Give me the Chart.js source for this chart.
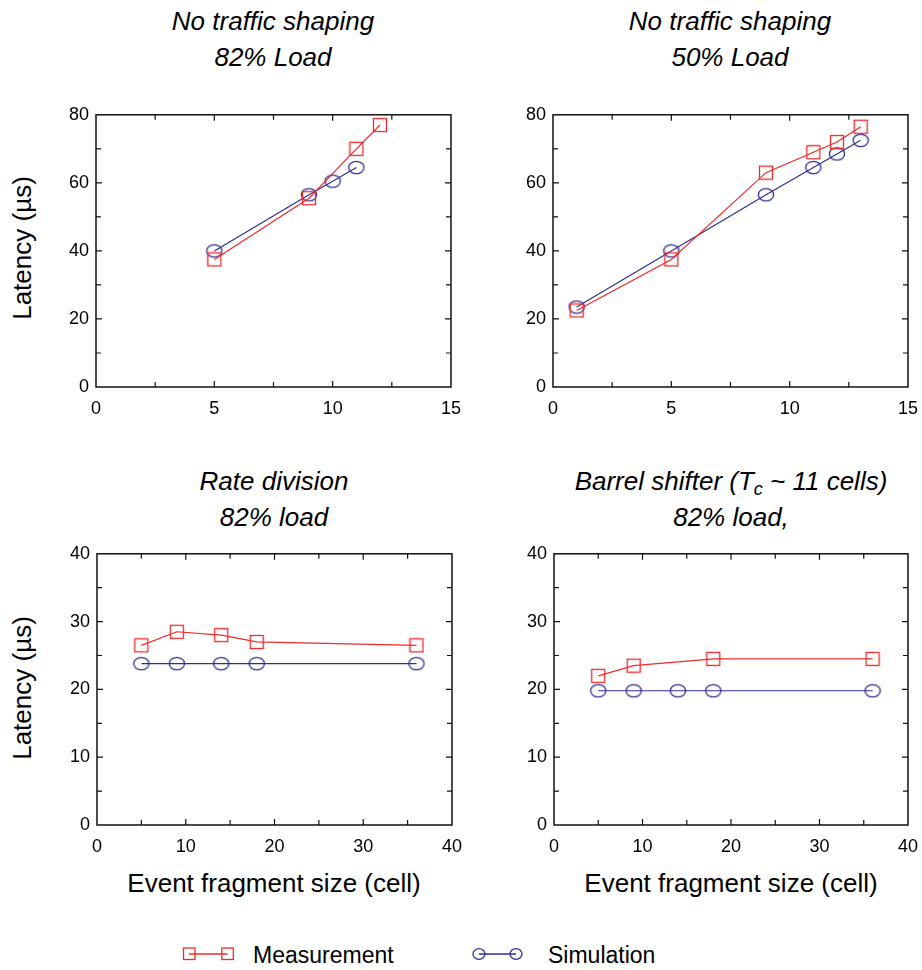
<!DOCTYPE html>
<html>
<head>
<title>Latency vs event fragment size</title>
<script src="https://cdn.jsdelivr.net/npm/chart.js@4.4.1/dist/chart.umd.min.js"></script>
<style>
body {
	margin: 0;
	width: 922px;
	height: 970px;
	position: relative;
	overflow: hidden;
	background: #fff;
	font-family: "Liberation Sans", Arial, sans-serif;
	color: #000;
}
canvas { position: absolute; }
.ptitle {
	position: absolute;
	width: 420px;
	text-align: center;
	font-style: italic;
	font-size: 26px;
	line-height: 36px;
}
.ptitle sub { font-size: 18px; vertical-align: -5px; line-height: 0; }
.ylab {
	position: absolute;
	font-size: 26px;
	white-space: nowrap;
	transform: translate(-50%, -50%) rotate(-90deg);
}
.xlab {
	position: absolute;
	font-size: 26px;
	white-space: nowrap;
	transform: translate(-50%, -50%);
}
.legtext {
	position: absolute;
	font-size: 23px;
	line-height: 24px;
	white-space: nowrap;
}
svg { position: absolute; }
</style>
</head>
<body>

<div class="ptitle" style="left:63px; top:3px;">No traffic shaping<br>82% Load</div>
<div class="ptitle" style="left:520px; top:3px;">No traffic shaping<br>50% Load</div>
<div class="ptitle" style="left:64px; top:463px;">Rate division<br>82% load</div>
<div class="ptitle" style="left:521px; top:463px;">Barrel shifter (T<sub>c</sub> ~ 11 cells)<br>82% load,</div>

<div class="ylab" style="left:22px; top:248px;">Latency (µs)</div>
<div class="ylab" style="left:22px; top:688px;">Latency (µs)</div>
<div class="xlab" style="left:274px; top:883px;">Event fragment size (cell)</div>
<div class="xlab" style="left:731px; top:883px;">Event fragment size (cell)</div>

<canvas id="c1"></canvas>
<canvas id="c2"></canvas>
<canvas id="c3"></canvas>
<canvas id="c4"></canvas>

<!-- legend -->
<svg style="left:180px; top:944px;" width="60" height="20">
  <line x1="9" y1="10" x2="47.5" y2="10" stroke="#f02a2a" stroke-width="1.3"/>
  <rect x="3.5" y="4" width="11.5" height="11.5" fill="none" stroke="#f02a2a" stroke-width="1.3"/>
  <rect x="41.8" y="4" width="11.5" height="11.5" fill="none" stroke="#f02a2a" stroke-width="1.3"/>
</svg>
<div class="legtext" style="left:253px; top:943px;">Measurement</div>
<svg style="left:470px; top:944px;" width="60" height="20">
  <line x1="9" y1="10" x2="46" y2="10" stroke="#2e2e96" stroke-width="1.3"/>
  <ellipse cx="9" cy="10" rx="6" ry="5.3" fill="none" stroke="#2e2e96" stroke-width="1.3"/>
  <ellipse cx="46" cy="10" rx="6" ry="5.3" fill="none" stroke="#2e2e96" stroke-width="1.3"/>
</svg>
<div class="legtext" style="left:548px; top:943px;">Simulation</div>

<script>
// No traffic shaping, 82% load
var noShaping82MeasX = [5, 9, 11, 12];
var noShaping82MeasY = [37.5, 55.5, 70, 77];
var noShaping82SimX = [5, 9, 10, 11];
var noShaping82SimY = [40, 56.5, 60.5, 64.5];

// No traffic shaping, 50% load
var noShaping50X = [1, 5, 9, 11, 12, 13];
var noShaping50MeasY = [22.5, 37.5, 63, 69, 72, 76.5];
var noShaping50SimY = [23.5, 40, 56.5, 64.5, 68.5, 72.5];

// Rate division, 82% load
var fragmentSizes = [5, 9, 14, 18, 36];
var rateDivMeasY = [26.5, 28.5, 28, 27, 26.5];
var rateDivSimY = [23.8, 23.8, 23.8, 23.8, 23.8];

// Barrel shifter, 82% load
var barrelMeasX = [5, 9, 18, 36];
var barrelMeasY = [22, 23.5, 24.5, 24.5];
var barrelSimY = [19.8, 19.8, 19.8, 19.8, 19.8];

var RED = '#f02a2a';
var BLUE = '#2e2e96';

Chart.defaults.font.family = '"Liberation Sans", Arial, sans-serif';
Chart.defaults.font.size = 18;
Chart.defaults.color = '#000';

function toPoints(xs, ys) {
	var pts = [];
	for (var i = 0; i < xs.length; i++) pts.push({x: xs[i], y: ys[i]});
	return pts;
}

// marker images
function squareMarker() {
	var c = document.createElement('canvas');
	c.width = 16; c.height = 16;
	var g = c.getContext('2d');
	g.strokeStyle = RED; g.lineWidth = 1.3;
	g.strokeRect(1.5, 1.5, 13, 13);
	return c;
}
function ellipseMarker() {
	var c = document.createElement('canvas');
	c.width = 18; c.height = 15;
	var g = c.getContext('2d');
	g.strokeStyle = BLUE; g.lineWidth = 1.3;
	g.beginPath();
	g.ellipse(9, 7.5, 7.6, 6.2, 0, 0, Math.PI * 2);
	g.stroke();
	return c;
}
var sqImg = squareMarker();
var elImg = ellipseMarker();

// frame with inward major + minor ticks on all four sides
var frameTicks = {
	id: 'frameTicks',
	afterDraw: function(chart) {
		var ctx = chart.ctx, a = chart.chartArea;
		var xs = chart.scales.x, ys = chart.scales.y;
		ctx.save();
		ctx.strokeStyle = '#111';
		ctx.lineWidth = 1.5;
		ctx.strokeRect(a.left, a.top, a.right - a.left, a.bottom - a.top);
		ctx.lineWidth = 1.2;
		var xStep = chart.options.scales.x.ticks.stepSize;
		var yStep = chart.options.scales.y.ticks.stepSize;
		var i, v, p, len;
		for (i = 1; xs.min + i * xStep / 2 < xs.max - 1e-9; i++) {
			v = xs.min + i * xStep / 2;
			p = xs.getPixelForValue(v);
			len = (i % 2 === 0) ? 6 : 5;
			ctx.beginPath();
			ctx.moveTo(p, a.bottom); ctx.lineTo(p, a.bottom - len);
			ctx.moveTo(p, a.top); ctx.lineTo(p, a.top + len);
			ctx.stroke();
		}
		for (i = 1; ys.min + i * yStep / 2 < ys.max - 1e-9; i++) {
			v = ys.min + i * yStep / 2;
			p = ys.getPixelForValue(v);
			len = (i % 2 === 0) ? 6 : 5;
			ctx.beginPath();
			ctx.moveTo(a.left, p); ctx.lineTo(a.left + len, p);
			ctx.moveTo(a.right, p); ctx.lineTo(a.right - len, p);
			ctx.stroke();
		}
		ctx.restore();
	}
};

var panels = [
	{id: 'c1', area: [96, 115, 451, 387], xMax: 15, xStep: 5, yMax: 80, yStep: 20,
		meas: toPoints(noShaping82MeasX, noShaping82MeasY), sim: toPoints(noShaping82SimX, noShaping82SimY)},
	{id: 'c2', area: [553, 115, 908, 387], xMax: 15, xStep: 5, yMax: 80, yStep: 20,
		meas: toPoints(noShaping50X, noShaping50MeasY), sim: toPoints(noShaping50X, noShaping50SimY)},
	{id: 'c3', area: [97, 554, 452, 825], xMax: 40, xStep: 10, yMax: 40, yStep: 10,
		meas: toPoints(fragmentSizes, rateDivMeasY), sim: toPoints(fragmentSizes, rateDivSimY)},
	{id: 'c4', area: [554, 554, 908, 825], xMax: 40, xStep: 10, yMax: 40, yStep: 10,
		meas: toPoints(barrelMeasX, barrelMeasY), sim: toPoints(fragmentSizes, barrelSimY)}
];

var YW = 50, XH = 38, PT = 4, PR = 4;

panels.forEach(function(p) {
	var cv = document.getElementById(p.id);
	var w = (p.area[2] - p.area[0]) + YW + 30;
	var h = (p.area[3] - p.area[1]) + XH + 30;
	cv.width = w; cv.height = h;
	cv.style.width = w + 'px'; cv.style.height = h + 'px';

	var chart = new Chart(cv, {
		type: 'scatter',
		data: {
			datasets: [
				{label: 'Measurement', data: p.meas, showLine: true, borderColor: RED, borderWidth: 1.2,
					pointStyle: sqImg, pointRadius: 7, backgroundColor: 'transparent'},
				{label: 'Simulation', data: p.sim, showLine: true, borderColor: BLUE, borderWidth: 1.2,
					pointStyle: elImg, pointRadius: 7, backgroundColor: 'transparent'}
			]
		},
		options: {
			responsive: false,
			maintainAspectRatio: false,
			animation: false,
			events: [],
			layout: {padding: {top: PT, right: PR, left: 0, bottom: 0}},
			plugins: {legend: {display: false}, tooltip: {enabled: false}},
			scales: {
				x: {
					type: 'linear', min: 0, max: p.xMax,
					grid: {display: false, drawTicks: false},
					border: {display: false},
					ticks: {stepSize: p.xStep, padding: 11, maxRotation: 0},
					afterFit: function(s) { s.height = XH; }
				},
				y: {
					type: 'linear', min: 0, max: p.yMax,
					grid: {display: false, drawTicks: false},
					border: {display: false},
					ticks: {stepSize: p.yStep, padding: 7},
					afterFit: function(s) { s.width = YW; }
				}
			}
		},
		plugins: [frameTicks]
	});

	// fit the canvas so the plot area lands on the target box
	var ca = chart.chartArea;
	var exL = ca.left, exT = ca.top, exR = w - ca.right, exB = h - ca.bottom;
	var nw = Math.round((p.area[2] - p.area[0]) + exL + exR);
	var nh = Math.round((p.area[3] - p.area[1]) + exT + exB);
	chart.resize(nw, nh);
	ca = chart.chartArea;
	cv.style.left = Math.round(p.area[0] - ca.left) + 'px';
	cv.style.top = Math.round(p.area[1] - ca.top) + 'px';
});
</script>
</body>
</html>
